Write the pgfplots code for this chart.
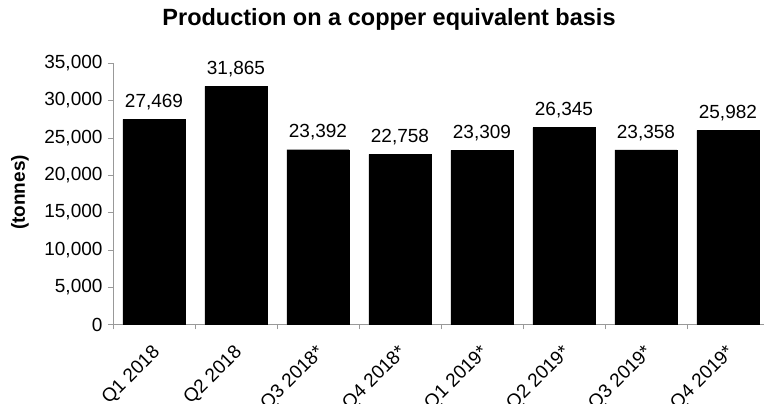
\documentclass[border=0pt]{standalone}
\usepackage{fontspec}
\setmainfont{Liberation Sans}
\usepackage{pgfplots}
\pgfplotsset{compat=1.18}
\begin{document}
\begin{tikzpicture}
\begin{axis}[
  scale only axis,
  width=651pt, height=261.5pt,
  xmin=-0.5, xmax=7.44,
  ymin=0, ymax=35000,
  axis lines=left,
  axis line style={-, draw=gray!80},
  ytick={0,5000,...,35000},
  xtick={0,...,7},
  xticklabels={Q1 2018,Q2 2018,Q3 2018*,Q4 2018*,Q1 2019*,Q2 2019*,Q3 2019*,Q4 2019*},
  minor xtick={-0.5,0.5,...,7.5},
  major x tick style={draw=none},
  tick style={draw=gray!80},
  tick align=outside,
  major tick length=5pt, minor tick length=5pt,
  scaled y ticks=false,
  /pgf/number format/.cd, 1000 sep={,}, assume math mode=true,
  /pgfplots/.cd,
  ticklabel style={font=\fontsize{19}{22}\selectfont},
  x tick label style={rotate=45, anchor=north east, inner sep=1pt, xshift=-11pt, yshift=-7pt},
  y tick label style={xshift=-2pt},
  nodes near coords,
  every node near coord/.append style={font=\fontsize{19}{22}\selectfont, yshift=6pt, /pgf/number format/1000 sep={,}},
  ybar, bar width=62pt,
]
\addplot[fill=black, draw=black] coordinates {(0,27469) (1,31865) (2,23392) (3,22758) (4,23309) (5,26345) (6,23358) (7,25982)};
\end{axis}
\node[font=\bfseries\fontsize{19}{22}\selectfont, rotate=90] at (-93pt,132pt) {(tonnes)};
\node[font=\bfseries\fontsize{23.5}{27}\selectfont] at (276pt,305.5pt) {Production on a copper equivalent basis};
\pgfresetboundingbox
\path[use as bounding box] (-113pt,-79.5pt) rectangle (651pt,324.5pt);
\end{tikzpicture}
\end{document}
